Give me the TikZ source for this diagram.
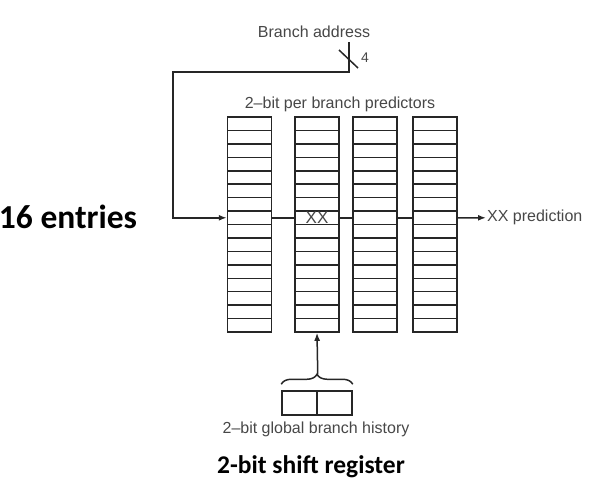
\documentclass[tikz,border=0pt]{standalone}
\usepackage{fontspec}
\setmainfont{Liberation Sans}
\newfontfamily\calibri{Carlito}
\usetikzlibrary{arrows.meta,decorations.pathreplacing}
\tikzset{
  cell/.style={draw=black!85, line width=1.5pt, minimum width=44pt, minimum height=13.44pt, inner sep=0pt},
  reg/.style={cell, minimum width=35pt, minimum height=24pt},
  lbl/.style={text=black!72, font=\fontsize{16}{19}\selectfont, inner sep=1pt},
  big/.style={text=black, font=\calibri\bfseries\fontsize{33.5}{38}\selectfont, inner sep=0pt},
  wire/.style={draw=black!85, line width=1.5pt},
  flow/.style={wire, -{Latex[length=8pt,width=6pt]}},
}
\begin{document}
\begin{tikzpicture}[x=1pt,y=-1pt]
    \useasboundingbox (0,0) rectangle (606,488);
    \foreach \x [count=\j] in {249.5,317,375,435}
      \foreach \i in {1,...,16}
        \node[cell] (c\j-\i) at (\x,{117+13.44*(\i-0.5)}) {};
    \node[lbl] (addr) at (314,32) {Branch address};
    \node[lbl] (title) at (340,104) {2--bit per branch predictors};
    \node[lbl, font=\fontsize{17}{19}\selectfont] (xx) at (c2-8) {XX};
    \node[lbl, anchor=west] (pred) at (486,217.8) {XX prediction};
    \node[big] (entries) at (68,217) {16 entries};
    \node[reg] (h1) at (299.5,403) {};
    \node[reg] (h2) at (334.5,403) {};
    \node[lbl] (hist) at (316,429) {2--bit global branch history};
    \node[big, font=\calibri\bfseries\fontsize{25.5}{30}\selectfont] (shift) at (311,467) {2-bit shift register};
    \node[lbl, font=\fontsize{14}{16}\selectfont] (width) at (365,58) {4};
    \coordinate (tap) at (349,42);
    \coordinate (bend) at (173,72);
    \coordinate (cut) at (349,59);
    \draw[flow] (tap) |- (bend) |- (c1-8.west);
    \draw[wire] ([shift={(-10pt,9pt)}]cut) -- ([shift={(9pt,-9pt)}]cut);
    \draw[wire] (c1-8.east) -- (c2-8.west);
    \draw[wire] (c2-8.east) -- (c3-8.west);
    \draw[wire] (c3-8.east) -- (c4-8.west);
    \draw[flow] (c4-8.east) -- (pred.west);
    \draw[wire, decorate, decoration={brace, amplitude=10pt, raise=6pt}] (h1.north west) -- (h2.north east);
    \draw[flow] ([yshift=16pt]h1.north east) -- (c2-16.south);
  \end{tikzpicture}
\end{document}
